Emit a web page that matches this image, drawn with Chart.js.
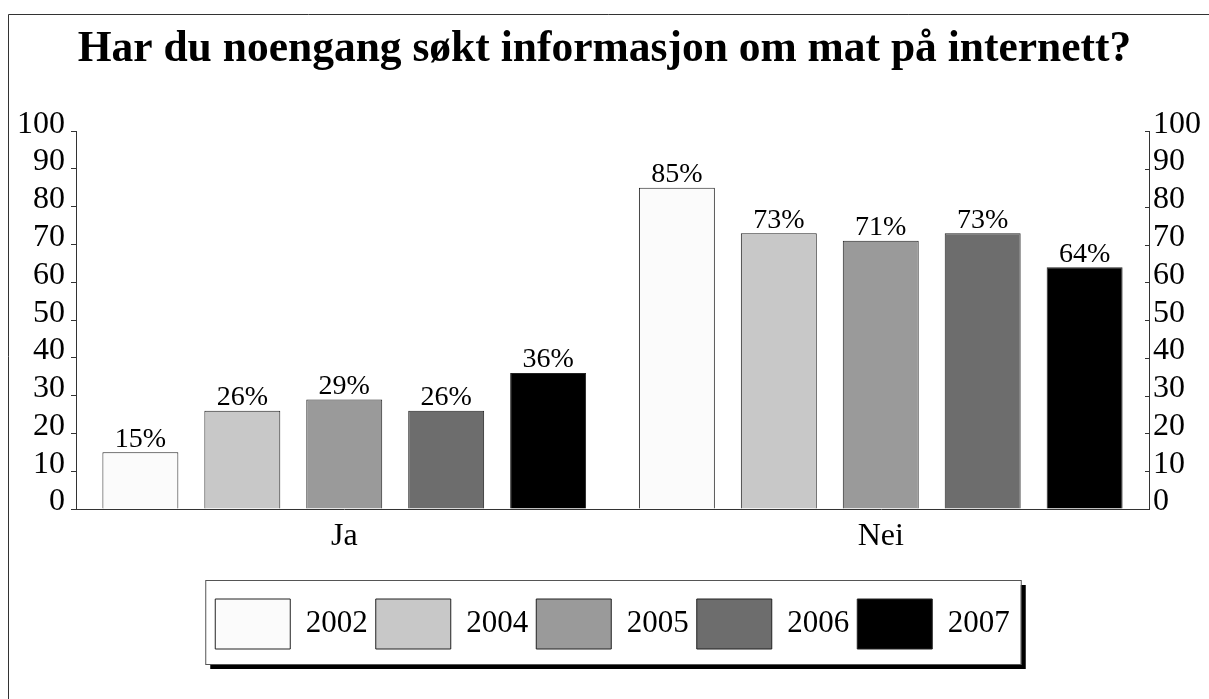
<!DOCTYPE html>
<html>
<head>
<meta charset="utf-8">
<script src="https://cdn.jsdelivr.net/npm/chart.js@4/dist/chart.umd.min.js"></script>
<style>
  html, body { margin: 0; padding: 0; background: #fff; }
  canvas { display: block; }
</style>
</head>
<body>
<canvas id="surveyChart" width="1209" height="699"></canvas>
<script>
// Data
const categories = ['Ja', 'Nei'];
const years = ['2002', '2004', '2005', '2006', '2007'];
const values2002 = [15, 85];
const values2004 = [26, 73];
const values2005 = [29, 71];
const values2006 = [26, 73];
const values2007 = [36, 64];
const yTicks = [0, 10, 20, 30, 40, 50, 60, 70, 80, 90, 100];

const seriesValues = [values2002, values2004, values2005, values2006, values2007];
const barColors = ['#fbfbfb', '#c8c8c8', '#9a9a9a', '#6d6d6d', '#000000'];

const serif = "'Liberation Serif', 'Times New Roman', serif";

// frame round the page and the legend box with its shadow
const framePlugin = {
  id: 'frame',
  afterLayout(chart) {
    // legend sits a little right of centre in the original
    chart.legend.left += 8;
    chart.legend.right += 8;
  },
  beforeDraw(chart) {
    const ctx = chart.ctx;
    ctx.save();
    ctx.strokeStyle = '#333';
    ctx.lineWidth = 1;
    ctx.beginPath();
    ctx.moveTo(8.5, chart.height);
    ctx.lineTo(8.5, 14.5);
    ctx.lineTo(chart.width, 14.5);
    ctx.stroke();

    const boxes = chart.legend.legendHitBoxes;
    if (boxes && boxes.length) {
      const first = boxes[0];
      const last = boxes[boxes.length - 1];
      const x0 = first.left - 10;
      const x1 = last.left + last.width + 11;
      const y0 = first.top - 19;
      const y1 = first.top + first.height + 15;
      ctx.fillStyle = '#000';
      ctx.fillRect(x0 + 5, y0 + 5, x1 - x0, y1 - y0);
      ctx.fillStyle = '#fff';
      ctx.fillRect(x0, y0, x1 - x0, y1 - y0);
      ctx.strokeStyle = '#555';
      ctx.strokeRect(x0 + 0.5, y0 + 0.5, x1 - x0, y1 - y0);
    }
    ctx.restore();
  },
  afterDraw(chart) {
    // right axis tick marks point inwards
    const scale = chart.scales.y2;
    const ctx = chart.ctx;
    ctx.save();
    ctx.strokeStyle = '#333';
    ctx.lineWidth = 1;
    ctx.beginPath();
    yTicks.forEach(v => {
      const py = Math.round(scale.getPixelForValue(v)) + 0.5;
      ctx.moveTo(scale.left - 4, py);
      ctx.lineTo(scale.left, py);
    });
    ctx.stroke();
    ctx.restore();
  }
};

// percentage labels above the bars
const valueLabels = {
  id: 'valueLabels',
  afterDatasetsDraw(chart) {
    const ctx = chart.ctx;
    ctx.save();
    ctx.font = '28px ' + serif;
    ctx.fillStyle = '#000';
    ctx.textAlign = 'center';
    ctx.textBaseline = 'bottom';
    chart.data.datasets.forEach((ds, i) => {
      chart.getDatasetMeta(i).data.forEach((bar, j) => {
        ctx.fillText(ds.data[j] + '%', bar.x, bar.y + 1);
      });
    });
    ctx.restore();
  }
};

const ctx = document.getElementById('surveyChart').getContext('2d');
new Chart(ctx, {
  type: 'bar',
  data: {
    labels: categories,
    datasets: years.map((year, i) => ({
      label: year,
      data: seriesValues[i],
      backgroundColor: barColors[i],
      borderColor: '#222',
      borderWidth: 1,
      categoryPercentage: 0.95,
      barPercentage: 0.745
    }))
  },
  options: {
    responsive: false,
    animation: false,
    layout: { padding: { left: 0, right: 0, top: 0, bottom: 40 } },
    plugins: {
      tooltip: { enabled: false },
      title: {
        display: true,
        text: 'Har du noengang søkt informasjon om mat på internett?',
        color: '#000',
        font: { family: serif, size: 43.5, weight: 'bold' },
        padding: { top: 24, bottom: 55 }
      },
      legend: {
        position: 'bottom',
        labels: {
          color: '#000',
          boxWidth: 75,
          boxHeight: 50,
          padding: 8,
          font: { family: serif, size: 31 }
        }
      }
    },
    scales: {
      x: {
        afterFit(scale) { scale.height = 82; },
        grid: { display: true, drawOnChartArea: false, drawTicks: false },
        border: { display: true, color: '#333' },
        ticks: { color: '#000', padding: 8, font: { family: serif, size: 32 } }
      },
      y: {
        position: 'left',
        min: 0,
        max: 100,
        afterFit(scale) { scale.width = 76; },
        grid: { drawOnChartArea: false, tickLength: 5, color: '#333' },
        border: { color: '#333' },
        ticks: { stepSize: 10, autoSkip: false, color: '#000', padding: 6, labelOffset: -7, font: { family: serif, size: 32 } }
      },
      y2: {
        position: 'right',
        display: true,
        min: 0,
        max: 100,
        afterFit(scale) { scale.width = 60; },
        grid: { drawOnChartArea: false, drawTicks: false },
        border: { color: '#333' },
        ticks: { stepSize: 10, autoSkip: false, color: '#000', padding: 4, labelOffset: -7, font: { family: serif, size: 32 } }
      }
    }
  },
  plugins: [framePlugin, valueLabels]
});
</script>
</body>
</html>
